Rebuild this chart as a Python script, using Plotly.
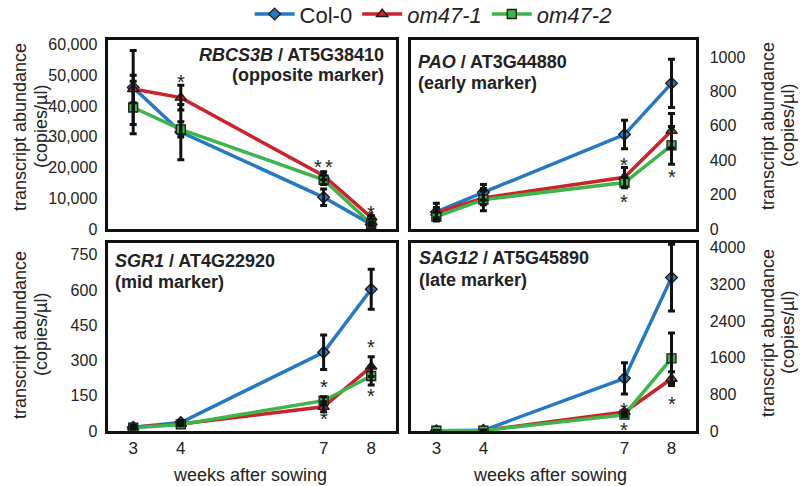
import plotly.graph_objects as go

weeks = [3, 4, 7, 8]
series_names = ["Col-0", "<i>om47-1</i>", "<i>om47-2</i>"]
colors = ["#2479c1", "#cc2229", "#3cb54a"]
symbols = ["diamond", "triangle-up", "square"]

# RBCS3B / AT5G38410
rbcs_col0 = [46000, 31500, 10300, 1500]
rbcs_col0_err = [12000, 9000, 2700, 500]
rbcs_om1 = [45500, 42700, 17300, 3800]
rbcs_om1_err = [4500, 4000, 1300, 600]
rbcs_om2 = [39500, 32400, 16000, 1700]
rbcs_om2_err = [8500, 2500, 1500, 400]

# PAO / AT3G44880
pao_col0 = [99, 213, 549, 847]
pao_col0_err = [50, 45, 83, 140]
pao_om1 = [95, 181, 301, 571]
pao_om1_err = [30, 40, 57, 100]
pao_om2 = [72, 171, 270, 486]
pao_om2_err = [25, 65, 30, 110]

# SGR1 / AT4G22920
sgr_col0 = [16, 36, 335, 603]
sgr_col0_err = [8, 8, 73, 85]
sgr_om1 = [16, 30, 103, 274]
sgr_om1_err = [5, 6, 21, 42]
sgr_om2 = [14, 28, 129, 234]
sgr_om2_err = [5, 6, 17, 38]

# SAG12 / AT5G45890
sag_col0 = [5, 15, 1148, 3345]
sag_col0_err = [3, 5, 340, 730]
sag_om1 = [5, 10, 415, 1140]
sag_om1_err = [2, 3, 40, 150]
sag_om2 = [5, 10, 355, 1585]
sag_om2_err = [2, 3, 40, 550]

# significance asterisks (week, value)
rbcs_star_x = [4, 6.89, 7.12, 8]
rbcs_star_y = [49000, 21600, 21600, 6600]
pao_star_x = [7, 7, 8]
pao_star_y = [398, 180, 324]
sgr_star_x = [7, 7, 8, 8]
sgr_star_y = [206, 68, 373, 167]
sag_star_x = [7, 7, 8]
sag_star_y = [541, 108, 678]

panels = [
    dict(ax="", vals=[(rbcs_col0, rbcs_col0_err), (rbcs_om1, rbcs_om1_err), (rbcs_om2, rbcs_om2_err)],
         sx=rbcs_star_x, sy=rbcs_star_y),
    dict(ax="2", vals=[(pao_col0, pao_col0_err), (pao_om1, pao_om1_err), (pao_om2, pao_om2_err)],
         sx=pao_star_x, sy=pao_star_y),
    dict(ax="3", vals=[(sgr_col0, sgr_col0_err), (sgr_om1, sgr_om1_err), (sgr_om2, sgr_om2_err)],
         sx=sgr_star_x, sy=sgr_star_y),
    dict(ax="4", vals=[(sag_col0, sag_col0_err), (sag_om1, sag_om1_err), (sag_om2, sag_om2_err)],
         sx=sag_star_x, sy=sag_star_y),
]

FONT = "Liberation Sans, Arial, sans-serif"
fig = go.Figure()

for pi, p in enumerate(panels):
    xa = "x" + p["ax"]
    ya = "y" + p["ax"]
    for si, (v, e) in enumerate(p["vals"]):
        fig.add_trace(go.Scatter(
            x=weeks, y=v, mode="lines+markers", name=series_names[si],
            xaxis=xa, yaxis=ya, showlegend=(pi == 0), legendgroup=str(si),
            line=dict(color=colors[si], width=3.5),
            marker=dict(symbol=symbols[si], size=10 if si == 1 else 9, color=colors[si],
                        line=dict(color="#1a1a1a", width=1.3)),
        ))
    for si, (v, e) in enumerate(p["vals"]):
        fig.add_trace(go.Scatter(
            x=weeks, y=v, mode="markers", xaxis=xa, yaxis=ya, showlegend=False,
            marker=dict(size=1, color="rgba(0,0,0,0)"), hoverinfo="skip",
            error_y=dict(type="data", array=e, visible=True, color="#111111",
                         thickness=3, width=3.5),
        ))

annotations = []
for p in panels:
    xa = "x" + p["ax"]
    ya = "y" + p["ax"]
    for sx, sy in zip(p["sx"], p["sy"]):
        annotations.append(dict(x=sx, y=sy, xref=xa, yref=ya, text="*", showarrow=False,
                                font=dict(size=20, color="#222222", family=FONT), yshift=-4))

def txt(x, y, t, size=18, xanchor="left", angle=0):
    annotations.append(dict(x=x / 800, y=1 - y / 486, xref="paper", yref="paper", text=t,
                            showarrow=False, xanchor=xanchor, yanchor="middle", textangle=angle,
                            font=dict(size=size, color="#222222", family=FONT)))

# panel titles
txt(386, 55, "<b><i>RBCS3B</i> / AT5G38410</b>", xanchor="right")
txt(386, 75, "<b>(opposite marker)</b>", xanchor="right")
txt(416, 62, "<b><i>PAO</i> / AT3G44880</b>")
txt(416, 83, "<b>(early marker)</b>")
txt(113, 261, "<b><i>SGR1</i> / AT4G22920</b>")
txt(113, 282, "<b>(mid marker)</b>")
txt(417, 258, "<b><i>SAG12</i> / AT5G45890</b>")
txt(417, 280, "<b>(late marker)</b>")

# axis titles
for yc in (127, 335):
    txt(20, yc, "transcript abundance", size=18, xanchor="center", angle=-90)
    txt(41, yc, "(copies/µl)", size=18, xanchor="center", angle=-90)
for yc in (126, 333):
    txt(768, yc, "transcript abundance", size=18, xanchor="center", angle=-90)
    txt(788, yc, "(copies/µl)", size=18, xanchor="center", angle=-90)
txt(250, 475, "weeks after sowing", size=18, xanchor="center")
txt(550, 475, "weeks after sowing", size=18, xanchor="center")

fig.update_layout(annotations=annotations)

LX = [107.5 / 800, 395.5 / 800]
RX = [411 / 800, 695.5 / 800]
TY = [1 - 229 / 486, 1 - 39.8 / 486]
BY = [1 - 431 / 486, 1 - 243 / 486]
XR = [2.46, 8.51]

def xaxis(domain, anchor, labels):
    return dict(domain=domain, anchor=anchor, range=XR, tickvals=weeks if labels else [],
                showticklabels=labels, tickmode="array", ticks="", showgrid=False, zeroline=False,
                showline=True, linewidth=3, linecolor="#111111", mirror=True, automargin=False,
                tickfont=dict(size=17, color="#222222", family=FONT), ticklabelstandoff=0)

def yaxis(domain, anchor, rng, dtick, side, fmt=""):
    return dict(domain=domain, anchor=anchor, range=rng, dtick=dtick, tick0=0, side=side,
                ticks="", showgrid=False, zeroline=False, showline=True, linewidth=3,
                linecolor="#111111", mirror=True, tickformat=fmt, automargin=False,
                tickfont=dict(size=16, color="#222222", family=FONT),
                ticklabelstandoff=4 if side == "left" else 8)

fig.update_layout(
    template="none",
    width=800, height=486, margin=dict(l=0, r=0, t=0, b=0, pad=0, autoexpand=False),
    paper_bgcolor="white", plot_bgcolor="white",
    xaxis=xaxis(LX, "y", False),
    yaxis=yaxis(TY, "x", [0, 61500], 10000, "left", ",d"),
    xaxis2=xaxis(RX, "y2", False),
    yaxis2=yaxis(TY, "x2", [0, 1100], 200, "right"),
    xaxis3=xaxis(LX, "y3", True),
    yaxis3=yaxis(BY, "x3", [0, 800], 150, "left"),
    xaxis4=xaxis(RX, "y4", True),
    yaxis4=yaxis(BY, "x4", [0, 4100], 800, "right"),
    legend=dict(orientation="h", x=0.312, y=1.014, xanchor="left", yanchor="top",
                font=dict(size=22, color="#222222", family=FONT), bgcolor="rgba(0,0,0,0)",
                itemwidth=40, tracegroupgap=0),
    showlegend=True,
)

fig.write_html("out.html", config={"displayModeBar": False},
               post_script="document.body.style.margin='0';document.body.style.padding='0';")
